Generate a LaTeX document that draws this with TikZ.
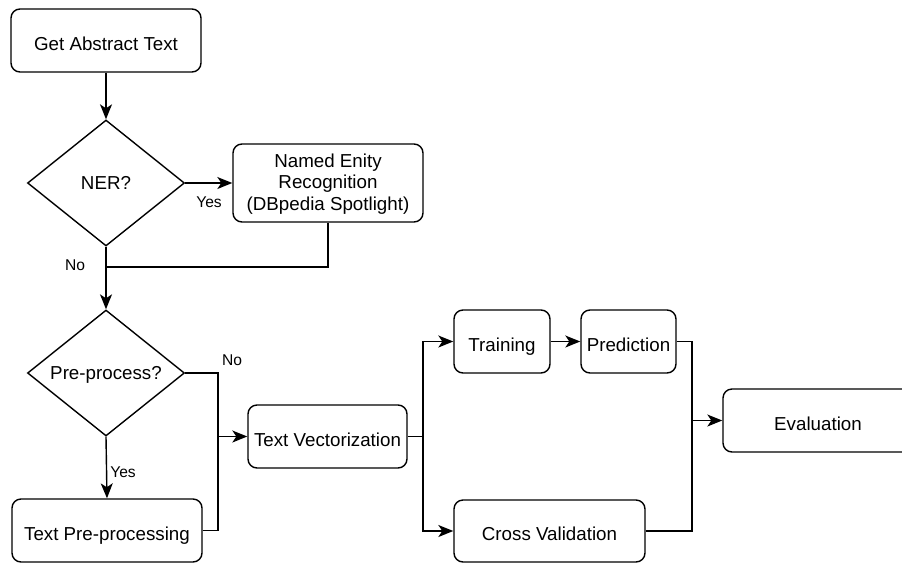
\documentclass[tikz,border=0pt]{standalone}
\usepackage{fontspec}
\setmainfont{Liberation Sans}
\usetikzlibrary{shapes.geometric,arrows.meta}
\begin{document}
\begin{tikzpicture}[x=1pt,y=-1pt,
  box/.style={draw,line width=1.4pt,rounded corners=9pt,inner sep=0pt,align=center,font=\fontsize{18.75}{21.5}\selectfont},
  onebox/.style={box,text height=19pt,text depth=0pt},
  dec/.style={draw,line width=1.4pt,diamond,inner sep=0pt,minimum width=157pt,minimum height=126pt,text height=12pt,text depth=0pt,font=\fontsize{18.75}{22}\selectfont},
  lbl/.style={font=\fontsize{15.6}{18}\selectfont,inner sep=0pt},
  conn/.style={line width=1.4pt},
  arr/.style={conn,-{Stealth[length=15pt,width=12pt,inset=4pt]}}]
\useasboundingbox (0,0) rectangle (902,563);
\clip (0,0) rectangle (902,563);
\node[onebox,minimum width=190pt,minimum height=63pt] (gat) at (106,40.5) {Get Abstract Text};
\node[dec] (ner) at (106,183) {NER?};
\node[box,minimum width=190pt,minimum height=78pt] (nerbox) at (328,183) {\strut Named Enity\\Recognition\\(DBpedia Spotlight)};
\node[dec] (pre) at (106,373) {Pre-process?};
\node[onebox,minimum width=190pt,minimum height=63pt] (tpp) at (107,530.5) {Text Pre-processing};
\node[onebox,minimum width=159pt,minimum height=63pt] (tv) at (327.5,436.5) {Text Vectorization};
\node[onebox,minimum width=96pt,minimum height=63pt] (train) at (502,341.5) {Training};
\node[onebox,minimum width=95pt,minimum height=63pt] (pred) at (628.5,341.5) {Prediction};
\node[onebox,minimum width=191pt,minimum height=62pt] (cv) at (549.5,531) {Cross Validation};
\node[onebox,minimum width=190pt,minimum height=63pt] (eval) at (818,420.5) {Evaluation};
\coordinate (j1) at (106,267);
\coordinate (j2) at (218,436.5);
\coordinate (j3) at (423,436.5);
\coordinate (j4) at (692,420.5);
\draw[arr] (gat) -- (ner);
\draw[arr] (ner.east) -- (nerbox.west);
\node[lbl] (yes1) at (209,202) {Yes};
\draw[conn] (nerbox.south) |- (j1);
\draw[arr] (ner.south) -- (pre.north);
\node[lbl] (no1) at (75,265) {No};
\draw[arr] (pre.east) -| (j2) -- (tv.west);
\draw[conn] (tpp.east) -| (j2);
\node[lbl] (no2) at (232,360) {No};
\draw[arr] (pre.south) -- (tpp.north);
\node[lbl] (yes2) at (123,472) {Yes};
\draw[conn] (tv.east) -- (j3);
\draw[arr] (j3) |- (train.west);
\draw[arr] (j3) |- (cv.west);
\draw[arr] (train) -- (pred);
\draw[arr] (pred.east) -| (j4) -- (eval.west);
\draw[conn] (cv.east) -| (j4);
\end{tikzpicture}
\end{document}
